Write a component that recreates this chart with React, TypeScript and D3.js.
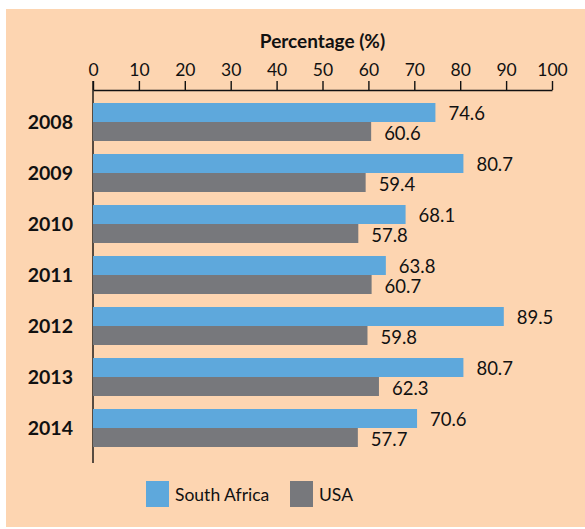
import React, { useEffect, useRef } from "react";
import * as d3 from "d3";

const years = ["2008", "2009", "2010", "2011", "2012", "2013", "2014"];
const southAfrica = [74.6, 80.7, 68.1, 63.8, 89.5, 80.7, 70.6];
const usa = [60.6, 59.4, 57.8, 60.7, 59.8, 62.3, 57.7];
const xTicks = [0, 10, 20, 30, 40, 50, 60, 70, 80, 90, 100];
const seriesNames = ["South Africa", "USA"];

const W = 585;
const H = 529;
const FONT = "Lato, 'DejaVu Sans', sans-serif";
const BLUE = "#5ea8dc";
const GREY = "#77787c";
const BG = "#fdd5b1";

const App = () => {
  const ref = useRef<SVGSVGElement>(null);

  useEffect(() => {
    const svg = d3.select(ref.current);
    svg.selectAll("*").remove();

    svg
      .append("rect")
      .attr("x", 6)
      .attr("y", 9)
      .attr("width", W - 6)
      .attr("height", H - 11)
      .attr("fill", BG);

    const x = d3.scaleLinear().domain([0, 100]).range([93, 552]);
    const p = 13 / 51;
    const y = d3
      .scaleBand()
      .domain(years)
      .range([96.5, 453.5])
      .paddingInner(p)
      .paddingOuter(p / 2);
    const sub = d3
      .scaleBand()
      .domain(seriesNames)
      .range([0, y.bandwidth()]);

    // top axis
    const axisY = 90;
    const ax = svg
      .append("g")
      .attr("transform", `translate(0,${axisY})`)
      .call(d3.axisTop(x).tickValues(xTicks).tickSize(9).tickSizeOuter(0).tickPadding(5));
    ax.select(".domain").attr("stroke", "#111").attr("stroke-width", 1.4);
    ax.selectAll(".tick line").attr("stroke", "#111").attr("stroke-width", 1.4);
    ax.selectAll(".tick text")
      .attr("fill", "#111")
      .attr("font-family", FONT)
      .attr("font-size", 17.5);

    svg
      .append("text")
      .attr("x", (x(0) + x(100)) / 2)
      .attr("y", 48)
      .attr("text-anchor", "middle")
      .attr("font-family", FONT)
      .attr("font-weight", "bold")
      .attr("font-size", 19)
      .attr("fill", "#111")
      .text("Percentage (%)");

    // y axis line
    svg
      .append("line")
      .attr("x1", x(0))
      .attr("x2", x(0))
      .attr("y1", axisY - 9)
      .attr("y2", 463)
      .attr("stroke", "#111")
      .attr("stroke-width", 1.4);

    const series = [southAfrica, usa];
    const colors = [BLUE, GREY];

    years.forEach((yr, i) => {
      const y0 = y(yr) as number;
      svg
        .append("text")
        .attr("x", 73)
        .attr("y", y0 + y.bandwidth() / 2)
        .attr("dy", "0.35em")
        .attr("text-anchor", "end")
        .attr("font-family", FONT)
        .attr("font-weight", "bold")
        .attr("font-size", 19.5)
        .attr("fill", "#111")
        .text(yr);

      series.forEach((vals, s) => {
        const by = y0 + (sub(seriesNames[s]) as number);
        svg
          .append("rect")
          .attr("x", x(0))
          .attr("y", by)
          .attr("width", x(vals[i]) - x(0))
          .attr("height", sub.bandwidth())
          .attr("fill", colors[s]);
        svg
          .append("text")
          .attr("x", x(vals[i]) + 13)
          .attr("y", by + sub.bandwidth() / 2 + (s === 1 ? 2 : 1))
          .attr("dy", "0.35em")
          .attr("font-family", FONT)
          .attr("font-size", 18.5)
          .attr("fill", "#111")
          .text(vals[i].toFixed(1));
      });
    });

    // legend
    const legendX = [146, 290];
    seriesNames.forEach((name, s) => {
      svg
        .append("rect")
        .attr("x", legendX[s])
        .attr("y", 481)
        .attr("width", 23)
        .attr("height", 26)
        .attr("fill", colors[s]);
      svg
        .append("text")
        .attr("x", legendX[s] + 29)
        .attr("y", 495)
        .attr("dy", "0.35em")
        .attr("font-family", FONT)
        .attr("font-size", 17.5)
        .attr("fill", "#111")
        .text(name);
    });
  }, []);

  return (
    <svg
      ref={ref}
      width={W}
      height={H}
      style={{ position: "absolute", left: 0, top: 0, display: "block" }}
    />
  );
};

export default App;
